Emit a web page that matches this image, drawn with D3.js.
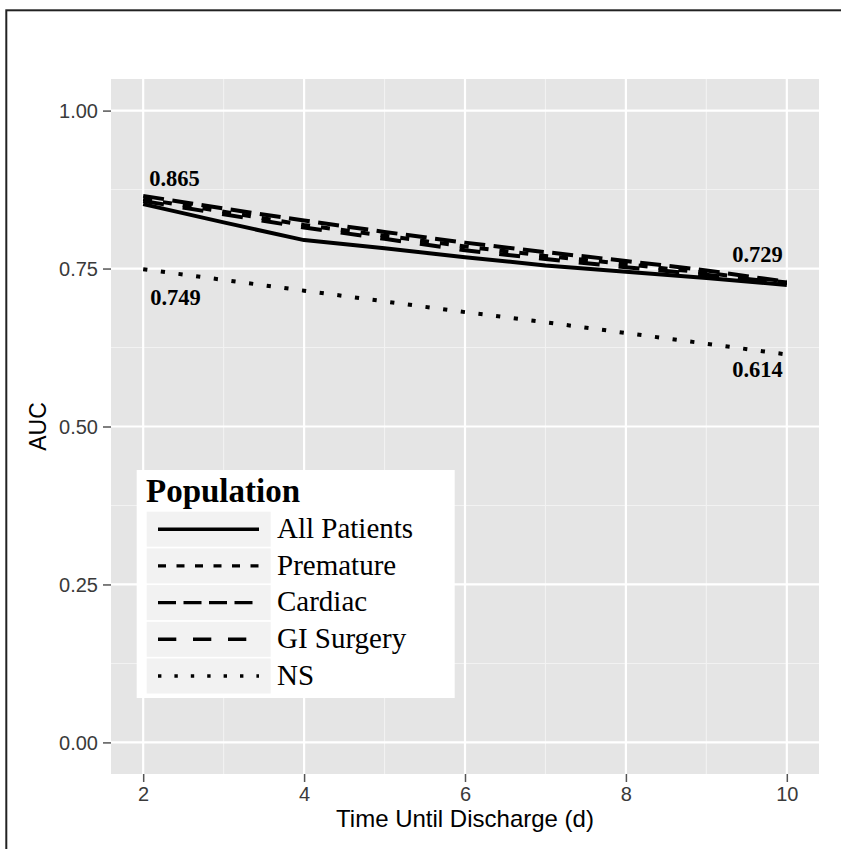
<!DOCTYPE html>
<html>
<head>
<meta charset="utf-8">
<script src="https://cdn.jsdelivr.net/npm/d3@7"></script>
<style>
  html, body { margin: 0; padding: 0; background: #fff; }
  svg { display: block; }
</style>
</head>
<body>
<svg id="chart" width="841" height="849"></svg>
<script>
// ---- data ----
const days = [2, 3, 4, 5, 6, 7, 8, 9, 10];
const allPatients = [0.852, 0.823, 0.795, 0.782, 0.768, 0.755, 0.745, 0.735, 0.724];
const premature   = [0.860, 0.840, 0.819, 0.802, 0.785, 0.770, 0.757, 0.743, 0.728];
const cardiac     = [0.865, 0.845, 0.826, 0.808, 0.791, 0.776, 0.762, 0.747, 0.729];
const giSurgery   = [0.857, 0.836, 0.815, 0.797, 0.779, 0.765, 0.752, 0.740, 0.727];
const ns          = [0.749, 0.732, 0.715, 0.698, 0.681, 0.665, 0.648, 0.631, 0.614];
const seriesNames = ["All Patients", "Premature", "Cardiac", "GI Surgery", "NS"];
const xTicks = [2, 4, 6, 8, 10];
const yTicks = [0, 0.25, 0.5, 0.75, 1.0];
const annotations = [
  { day: 2,  value: 0.865, text: "0.865" },
  { day: 2,  value: 0.749, text: "0.749" },
  { day: 10, value: 0.729, text: "0.729" },
  { day: 10, value: 0.614, text: "0.614" }
];

const series = [
  { name: seriesNames[0], values: allPatients, dash: null,       ldash: null },
  { name: seriesNames[1], values: premature,   dash: "9,11",     ldash: "8,10.5" },
  { name: seriesNames[2], values: cardiac,     dash: "21,8.5",   ldash: "18,7.5" },
  { name: seriesNames[3], values: giSurgery,   dash: "21,19",    ldash: "18.3,16.7" },
  { name: seriesNames[4], values: ns,          dash: "4.2,13.6", ldash: "3.4,13" }
];

// ---- layout ----
const svg = d3.select("#chart");
const panel = { left: 111, right: 819, top: 79, bottom: 774 };

svg.append("rect").attr("x", 6.3).attr("y", 10.3).attr("width", 850).attr("height", 850)
  .attr("fill", "none").attr("stroke", "#222").attr("stroke-width", 2);

const x = d3.scaleLinear().domain([1.6, 10.4]).range([panel.left, panel.right]);
const y = d3.scaleLinear().domain([-0.05, 1.05]).range([panel.bottom, panel.top]);

svg.append("rect").attr("x", panel.left).attr("y", panel.top)
  .attr("width", panel.right - panel.left).attr("height", panel.bottom - panel.top)
  .attr("fill", "#E5E5E5");

const g = svg.append("g");
// minor grid
const xMinor = [3, 5, 7, 9];
const yMinor = [0.125, 0.375, 0.625, 0.875];
g.selectAll(".xminor").data(xMinor).enter().append("line")
  .attr("x1", d => x(d)).attr("x2", d => x(d)).attr("y1", panel.top).attr("y2", panel.bottom)
  .attr("stroke", "#F2F2F2").attr("stroke-width", 1.1);
g.selectAll(".yminor").data(yMinor).enter().append("line")
  .attr("y1", d => y(d)).attr("y2", d => y(d)).attr("x1", panel.left).attr("x2", panel.right)
  .attr("stroke", "#F2F2F2").attr("stroke-width", 1.1);
// major grid
g.selectAll(".xmajor").data(xTicks).enter().append("line")
  .attr("x1", d => x(d)).attr("x2", d => x(d)).attr("y1", panel.top).attr("y2", panel.bottom)
  .attr("stroke", "#fff").attr("stroke-width", 2.2);
g.selectAll(".ymajor").data(yTicks).enter().append("line")
  .attr("y1", d => y(d)).attr("y2", d => y(d)).attr("x1", panel.left).attr("x2", panel.right)
  .attr("stroke", "#fff").attr("stroke-width", 2.2);

// axes
const xAxis = d3.axisBottom(x).tickValues(xTicks).tickSize(8).tickPadding(5).tickFormat(d3.format("d"));
const yAxis = d3.axisLeft(y).tickValues(yTicks).tickSize(8).tickPadding(5).tickFormat(d3.format(".2f"));
const gx = svg.append("g").attr("transform", `translate(0,${panel.bottom})`).call(xAxis);
const gy = svg.append("g").attr("transform", `translate(${panel.left},0)`).call(yAxis);
[gx, gy].forEach(a => {
  a.select(".domain").remove();
  a.selectAll(".tick line").attr("stroke", "#555").attr("stroke-width", 1.5);
  a.selectAll(".tick text").attr("fill", "#3a3a3a")
    .style("font-family", "'Liberation Sans', Arial, sans-serif").style("font-size", "20px");
});
gy.selectAll(".tick text").attr("dy", "0.36em");
gx.selectAll(".tick text").attr("dy", "0.72em");

svg.append("text").attr("x", (panel.left + panel.right) / 2).attr("y", 827)
  .attr("text-anchor", "middle")
  .style("font-family", "'Liberation Sans', Arial, sans-serif").style("font-size", "24px")
  .text("Time Until Discharge (d)");
svg.append("text").attr("transform", `translate(46,${(panel.top + panel.bottom) / 2}) rotate(-90)`)
  .attr("text-anchor", "middle")
  .style("font-family", "'Liberation Sans', Arial, sans-serif").style("font-size", "23px")
  .text("AUC");

// lines
const line = d3.line().x((d, i) => x(days[i])).y(d => y(d));
series.forEach(s => {
  svg.append("path").datum(s.values).attr("d", line)
    .attr("fill", "none").attr("stroke", "#000").attr("stroke-width", 4)
    .attr("stroke-linejoin", "round")
    .attr("stroke-dasharray", s.dash);
});

// annotations
const annOffsets = [
  { dx: 6, dy: -10, anchor: "start" },
  { dx: 7, dy: 36, anchor: "start" },
  { dx: -4, dy: -20, anchor: "end" },
  { dx: -4, dy: 23, anchor: "end" }
];
annotations.forEach((a, i) => {
  svg.append("text").attr("x", x(a.day) + annOffsets[i].dx).attr("y", y(a.value) + annOffsets[i].dy)
    .attr("text-anchor", annOffsets[i].anchor)
    .style("font-family", "'Liberation Serif', 'Times New Roman', serif")
    .style("font-weight", "bold").style("font-size", "22.5px")
    .text(a.text);
});

// legend
const lg = svg.append("g");
lg.append("rect").attr("x", 136.7).attr("y", 470).attr("width", 318).attr("height", 228).attr("fill", "#fff");
lg.append("text").attr("x", 146).attr("y", 502)
  .style("font-family", "'Liberation Serif', 'Times New Roman', serif")
  .style("font-weight", "bold").style("font-size", "33px").text("Population");
series.forEach((s, i) => {
  const top = 511.7 + i * 36.7;
  lg.append("rect").attr("x", 146.7).attr("y", top).attr("width", 124).attr("height", 35).attr("fill", "#F2F2F2");
  lg.append("line").attr("x1", 158).attr("x2", 259).attr("y1", top + 17.5).attr("y2", top + 17.5)
    .attr("stroke", "#000").attr("stroke-width", 3.4).attr("stroke-dasharray", s.ldash);
  lg.append("text").attr("x", 277).attr("y", top + 26.3)
    .style("font-family", "'Liberation Serif', 'Times New Roman', serif")
    .style("font-size", "29px").text(s.name);
});
</script>
</body>
</html>
